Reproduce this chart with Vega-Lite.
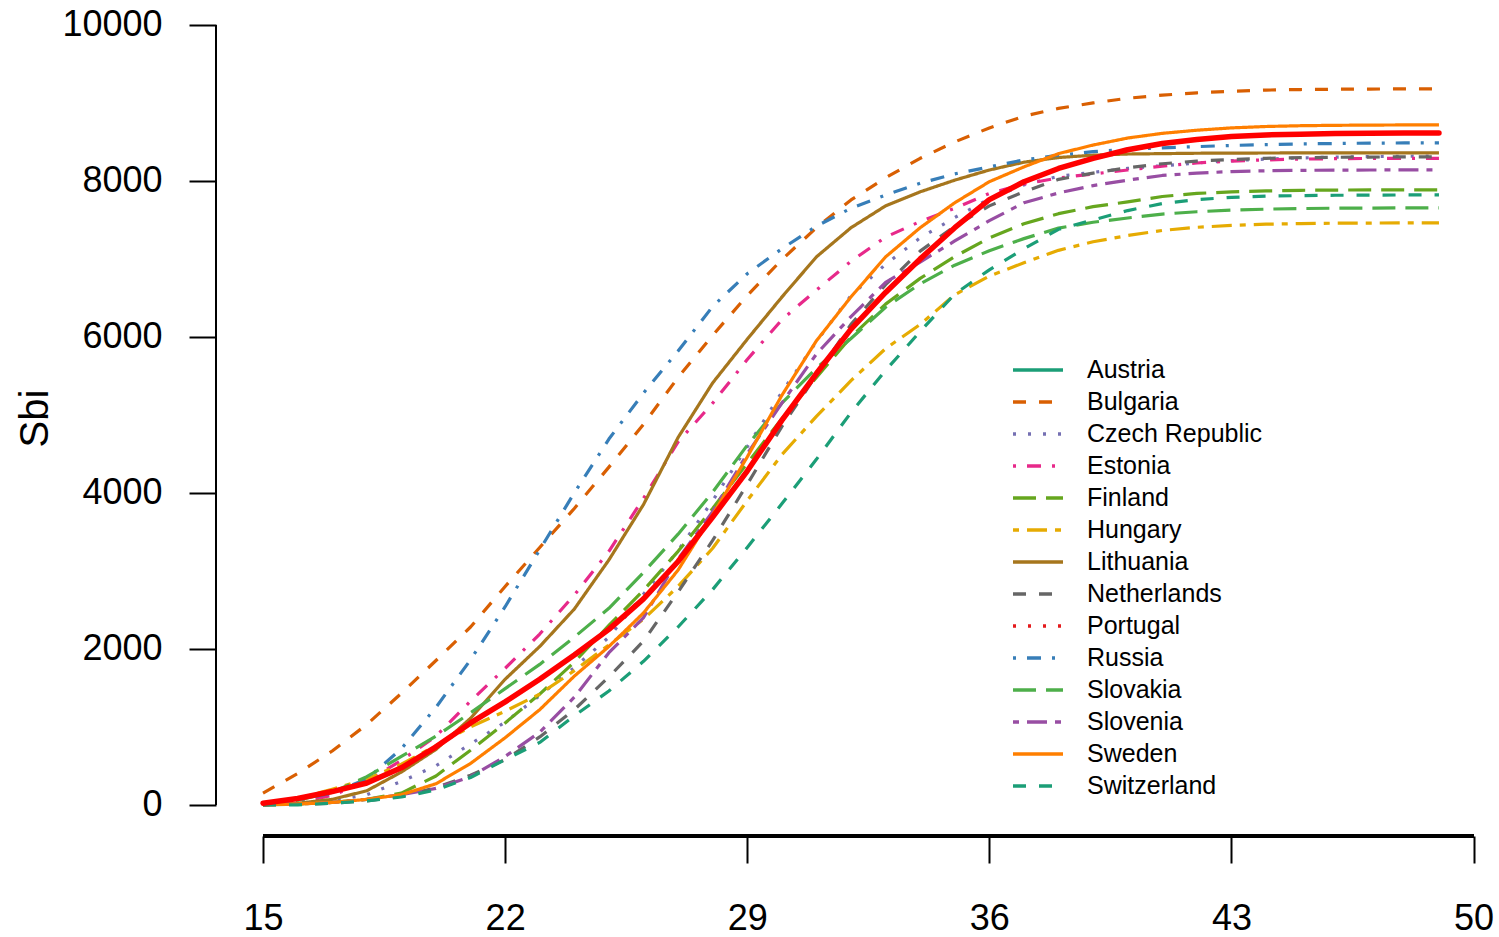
{
"$schema": "https://vega.github.io/schema/vega-lite/v6.json",
"width": 1270, "height": 836,
"autosize": {"type": "none"},
"padding": {"left": 216, "top": 0, "right": 13, "bottom": 101},
"background": "white",
"config": {"view": {"stroke": null}, "font": "Liberation Sans", "axis": {"grid": false, "domain": false}},
"datasets": {
"lines": [
{"country":"Bulgaria","age":15,"value":150},{"country":"Bulgaria","age":16,"value":400},{"country":"Bulgaria","age":17,"value":690},{"country":"Bulgaria","age":18,"value":1030},{"country":"Bulgaria","age":19,"value":1430},{"country":"Bulgaria","age":20,"value":1850},{"country":"Bulgaria","age":21,"value":2280},{"country":"Bulgaria","age":22,"value":2800},{"country":"Bulgaria","age":23,"value":3300},{"country":"Bulgaria","age":24,"value":3800},{"country":"Bulgaria","age":25,"value":4330},{"country":"Bulgaria","age":26,"value":4880},{"country":"Bulgaria","age":27,"value":5480},{"country":"Bulgaria","age":28,"value":6020},{"country":"Bulgaria","age":29,"value":6530},{"country":"Bulgaria","age":30,"value":6990},{"country":"Bulgaria","age":31,"value":7400},{"country":"Bulgaria","age":32,"value":7756},{"country":"Bulgaria","age":33,"value":8040},{"country":"Bulgaria","age":34,"value":8290},{"country":"Bulgaria","age":35,"value":8500},{"country":"Bulgaria","age":36,"value":8680},{"country":"Bulgaria","age":37,"value":8830},{"country":"Bulgaria","age":38,"value":8930},{"country":"Bulgaria","age":39,"value":9000},{"country":"Bulgaria","age":40,"value":9060},{"country":"Bulgaria","age":41,"value":9100},{"country":"Bulgaria","age":42,"value":9130},{"country":"Bulgaria","age":43,"value":9150},{"country":"Bulgaria","age":44,"value":9165},{"country":"Bulgaria","age":45,"value":9172},{"country":"Bulgaria","age":46,"value":9176},{"country":"Bulgaria","age":47,"value":9178},{"country":"Bulgaria","age":48,"value":9180},{"country":"Bulgaria","age":49,"value":9180},
{"country":"Czech Republic","age":15,"value":0},{"country":"Czech Republic","age":16,"value":10},{"country":"Czech Republic","age":17,"value":50},{"country":"Czech Republic","age":18,"value":130},{"country":"Czech Republic","age":19,"value":300},{"country":"Czech Republic","age":20,"value":500},{"country":"Czech Republic","age":21,"value":780},{"country":"Czech Republic","age":22,"value":1060},{"country":"Czech Republic","age":23,"value":1400},{"country":"Czech Republic","age":24,"value":1760},{"country":"Czech Republic","age":25,"value":2150},{"country":"Czech Republic","age":26,"value":2700},{"country":"Czech Republic","age":27,"value":3260},{"country":"Czech Republic","age":28,"value":3900},{"country":"Czech Republic","age":29,"value":4590},{"country":"Czech Republic","age":30,"value":5290},{"country":"Czech Republic","age":31,"value":5940},{"country":"Czech Republic","age":32,"value":6530},{"country":"Czech Republic","age":33,"value":6930},{"country":"Czech Republic","age":34,"value":7270},{"country":"Czech Republic","age":35,"value":7530},{"country":"Czech Republic","age":36,"value":7770},{"country":"Czech Republic","age":37,"value":7950},{"country":"Czech Republic","age":38,"value":8060},{"country":"Czech Republic","age":39,"value":8110},{"country":"Czech Republic","age":40,"value":8160},{"country":"Czech Republic","age":41,"value":8195},{"country":"Czech Republic","age":42,"value":8230},{"country":"Czech Republic","age":43,"value":8260},{"country":"Czech Republic","age":44,"value":8280},{"country":"Czech Republic","age":45,"value":8295},{"country":"Czech Republic","age":46,"value":8305},{"country":"Czech Republic","age":47,"value":8312},{"country":"Czech Republic","age":48,"value":8316},{"country":"Czech Republic","age":49,"value":8320},
{"country":"Estonia","age":15,"value":0},{"country":"Estonia","age":16,"value":30},{"country":"Estonia","age":17,"value":120},{"country":"Estonia","age":18,"value":300},{"country":"Estonia","age":19,"value":570},{"country":"Estonia","age":20,"value":880},{"country":"Estonia","age":21,"value":1330},{"country":"Estonia","age":22,"value":1750},{"country":"Estonia","age":23,"value":2190},{"country":"Estonia","age":24,"value":2690},{"country":"Estonia","age":25,"value":3250},{"country":"Estonia","age":26,"value":3930},{"country":"Estonia","age":27,"value":4654},{"country":"Estonia","age":28,"value":5150},{"country":"Estonia","age":29,"value":5710},{"country":"Estonia","age":30,"value":6220},{"country":"Estonia","age":31,"value":6600},{"country":"Estonia","age":32,"value":6970},{"country":"Estonia","age":33,"value":7280},{"country":"Estonia","age":34,"value":7480},{"country":"Estonia","age":35,"value":7650},{"country":"Estonia","age":36,"value":7840},{"country":"Estonia","age":37,"value":7960},{"country":"Estonia","age":38,"value":8038},{"country":"Estonia","age":39,"value":8090},{"country":"Estonia","age":40,"value":8140},{"country":"Estonia","age":41,"value":8190},{"country":"Estonia","age":42,"value":8230},{"country":"Estonia","age":43,"value":8255},{"country":"Estonia","age":44,"value":8270},{"country":"Estonia","age":45,"value":8280},{"country":"Estonia","age":46,"value":8285},{"country":"Estonia","age":47,"value":8288},{"country":"Estonia","age":48,"value":8290},{"country":"Estonia","age":49,"value":8290},
{"country":"Finland","age":15,"value":0},{"country":"Finland","age":16,"value":10},{"country":"Finland","age":17,"value":30},{"country":"Finland","age":18,"value":70},{"country":"Finland","age":19,"value":150},{"country":"Finland","age":20,"value":370},{"country":"Finland","age":21,"value":700},{"country":"Finland","age":22,"value":1050},{"country":"Finland","age":23,"value":1420},{"country":"Finland","age":24,"value":1830},{"country":"Finland","age":25,"value":2300},{"country":"Finland","age":26,"value":2750},{"country":"Finland","age":27,"value":3250},{"country":"Finland","age":28,"value":3800},{"country":"Finland","age":29,"value":4380},{"country":"Finland","age":30,"value":4950},{"country":"Finland","age":31,"value":5480},{"country":"Finland","age":32,"value":6000},{"country":"Finland","age":33,"value":6420},{"country":"Finland","age":34,"value":6750},{"country":"Finland","age":35,"value":7030},{"country":"Finland","age":36,"value":7270},{"country":"Finland","age":37,"value":7450},{"country":"Finland","age":38,"value":7580},{"country":"Finland","age":39,"value":7670},{"country":"Finland","age":40,"value":7731},{"country":"Finland","age":41,"value":7800},{"country":"Finland","age":42,"value":7840},{"country":"Finland","age":43,"value":7860},{"country":"Finland","age":44,"value":7872},{"country":"Finland","age":45,"value":7880},{"country":"Finland","age":46,"value":7883},{"country":"Finland","age":47,"value":7885},{"country":"Finland","age":48,"value":7885},{"country":"Finland","age":49,"value":7885},
{"country":"Hungary","age":15,"value":10},{"country":"Hungary","age":16,"value":80},{"country":"Hungary","age":17,"value":200},{"country":"Hungary","age":18,"value":330},{"country":"Hungary","age":19,"value":520},{"country":"Hungary","age":20,"value":760},{"country":"Hungary","age":21,"value":1000},{"country":"Hungary","age":22,"value":1200},{"country":"Hungary","age":23,"value":1420},{"country":"Hungary","age":24,"value":1720},{"country":"Hungary","age":25,"value":2050},{"country":"Hungary","age":26,"value":2380},{"country":"Hungary","age":27,"value":2800},{"country":"Hungary","age":28,"value":3290},{"country":"Hungary","age":29,"value":3900},{"country":"Hungary","age":30,"value":4490},{"country":"Hungary","age":31,"value":4980},{"country":"Hungary","age":32,"value":5440},{"country":"Hungary","age":33,"value":5850},{"country":"Hungary","age":34,"value":6160},{"country":"Hungary","age":35,"value":6540},{"country":"Hungary","age":36,"value":6780},{"country":"Hungary","age":37,"value":6950},{"country":"Hungary","age":38,"value":7110},{"country":"Hungary","age":39,"value":7220},{"country":"Hungary","age":40,"value":7300},{"country":"Hungary","age":41,"value":7365},{"country":"Hungary","age":42,"value":7405},{"country":"Hungary","age":43,"value":7430},{"country":"Hungary","age":44,"value":7445},{"country":"Hungary","age":45,"value":7453},{"country":"Hungary","age":46,"value":7458},{"country":"Hungary","age":47,"value":7460},{"country":"Hungary","age":48,"value":7462},{"country":"Hungary","age":49,"value":7462},
{"country":"Lithuania","age":15,"value":0},{"country":"Lithuania","age":16,"value":20},{"country":"Lithuania","age":17,"value":70},{"country":"Lithuania","age":18,"value":180},{"country":"Lithuania","age":19,"value":420},{"country":"Lithuania","age":20,"value":710},{"country":"Lithuania","age":21,"value":1110},{"country":"Lithuania","age":22,"value":1610},{"country":"Lithuania","age":23,"value":2030},{"country":"Lithuania","age":24,"value":2510},{"country":"Lithuania","age":25,"value":3140},{"country":"Lithuania","age":26,"value":3850},{"country":"Lithuania","age":27,"value":4710},{"country":"Lithuania","age":28,"value":5410},{"country":"Lithuania","age":29,"value":5970},{"country":"Lithuania","age":30,"value":6510},{"country":"Lithuania","age":31,"value":7026},{"country":"Lithuania","age":32,"value":7400},{"country":"Lithuania","age":33,"value":7680},{"country":"Lithuania","age":34,"value":7860},{"country":"Lithuania","age":35,"value":8010},{"country":"Lithuania","age":36,"value":8140},{"country":"Lithuania","age":37,"value":8240},{"country":"Lithuania","age":38,"value":8300},{"country":"Lithuania","age":39,"value":8330},{"country":"Lithuania","age":40,"value":8345},{"country":"Lithuania","age":41,"value":8350},{"country":"Lithuania","age":42,"value":8355},{"country":"Lithuania","age":43,"value":8357},{"country":"Lithuania","age":44,"value":8358},{"country":"Lithuania","age":45,"value":8359},{"country":"Lithuania","age":46,"value":8359},{"country":"Lithuania","age":47,"value":8359},{"country":"Lithuania","age":48,"value":8359},{"country":"Lithuania","age":49,"value":8359},
{"country":"Netherlands","age":15,"value":0},{"country":"Netherlands","age":16,"value":5},{"country":"Netherlands","age":17,"value":20},{"country":"Netherlands","age":18,"value":50},{"country":"Netherlands","age":19,"value":110},{"country":"Netherlands","age":20,"value":220},{"country":"Netherlands","age":21,"value":380},{"country":"Netherlands","age":22,"value":580},{"country":"Netherlands","age":23,"value":870},{"country":"Netherlands","age":24,"value":1220},{"country":"Netherlands","age":25,"value":1640},{"country":"Netherlands","age":26,"value":2100},{"country":"Netherlands","age":27,"value":2730},{"country":"Netherlands","age":28,"value":3390},{"country":"Netherlands","age":29,"value":4110},{"country":"Netherlands","age":30,"value":4850},{"country":"Netherlands","age":31,"value":5510},{"country":"Netherlands","age":32,"value":6160},{"country":"Netherlands","age":33,"value":6670},{"country":"Netherlands","age":34,"value":7100},{"country":"Netherlands","age":35,"value":7420},{"country":"Netherlands","age":36,"value":7680},{"country":"Netherlands","age":37,"value":7860},{"country":"Netherlands","age":38,"value":8020},{"country":"Netherlands","age":39,"value":8100},{"country":"Netherlands","age":40,"value":8170},{"country":"Netherlands","age":41,"value":8220},{"country":"Netherlands","age":42,"value":8255},{"country":"Netherlands","age":43,"value":8275},{"country":"Netherlands","age":44,"value":8290},{"country":"Netherlands","age":45,"value":8298},{"country":"Netherlands","age":46,"value":8303},{"country":"Netherlands","age":47,"value":8306},{"country":"Netherlands","age":48,"value":8308},{"country":"Netherlands","age":49,"value":8308},
{"country":"Portugal","age":15,"value":20},{"country":"Portugal","age":16,"value":80},{"country":"Portugal","age":17,"value":170},{"country":"Portugal","age":18,"value":280},{"country":"Portugal","age":19,"value":474},{"country":"Portugal","age":20,"value":744},{"country":"Portugal","age":21,"value":1050},{"country":"Portugal","age":22,"value":1320},{"country":"Portugal","age":23,"value":1610},{"country":"Portugal","age":24,"value":1920},{"country":"Portugal","age":25,"value":2250},{"country":"Portugal","age":26,"value":2640},{"country":"Portugal","age":27,"value":3120},{"country":"Portugal","age":28,"value":3690},{"country":"Portugal","age":29,"value":4280},{"country":"Portugal","age":30,"value":4930},{"country":"Portugal","age":31,"value":5530},{"country":"Portugal","age":32,"value":6100},{"country":"Portugal","age":33,"value":6570},{"country":"Portugal","age":34,"value":7000},{"country":"Portugal","age":35,"value":7400},{"country":"Portugal","age":36,"value":7760},{"country":"Portugal","age":37,"value":7990},{"country":"Portugal","age":38,"value":8160},{"country":"Portugal","age":39,"value":8290},{"country":"Portugal","age":40,"value":8400},{"country":"Portugal","age":41,"value":8480},{"country":"Portugal","age":42,"value":8530},{"country":"Portugal","age":43,"value":8570},{"country":"Portugal","age":44,"value":8590},{"country":"Portugal","age":45,"value":8600},{"country":"Portugal","age":46,"value":8608},{"country":"Portugal","age":47,"value":8612},{"country":"Portugal","age":48,"value":8615},{"country":"Portugal","age":49,"value":8615},
{"country":"Russia","age":15,"value":20},{"country":"Russia","age":16,"value":60},{"country":"Russia","age":17,"value":150},{"country":"Russia","age":18,"value":330},{"country":"Russia","age":19,"value":720},{"country":"Russia","age":20,"value":1250},{"country":"Russia","age":21,"value":1860},{"country":"Russia","age":22,"value":2540},{"country":"Russia","age":23,"value":3270},{"country":"Russia","age":24,"value":4000},{"country":"Russia","age":25,"value":4690},{"country":"Russia","age":26,"value":5280},{"country":"Russia","age":27,"value":5820},{"country":"Russia","age":28,"value":6390},{"country":"Russia","age":29,"value":6810},{"country":"Russia","age":30,"value":7130},{"country":"Russia","age":31,"value":7420},{"country":"Russia","age":32,"value":7650},{"country":"Russia","age":33,"value":7820},{"country":"Russia","age":34,"value":7970},{"country":"Russia","age":35,"value":8090},{"country":"Russia","age":36,"value":8180},{"country":"Russia","age":37,"value":8270},{"country":"Russia","age":38,"value":8330},{"country":"Russia","age":39,"value":8375},{"country":"Russia","age":40,"value":8405},{"country":"Russia","age":41,"value":8425},{"country":"Russia","age":42,"value":8440},{"country":"Russia","age":43,"value":8455},{"country":"Russia","age":44,"value":8465},{"country":"Russia","age":45,"value":8475},{"country":"Russia","age":46,"value":8480},{"country":"Russia","age":47,"value":8485},{"country":"Russia","age":48,"value":8487},{"country":"Russia","age":49,"value":8487},
{"country":"Slovakia","age":15,"value":0},{"country":"Slovakia","age":16,"value":60},{"country":"Slovakia","age":17,"value":160},{"country":"Slovakia","age":18,"value":360},{"country":"Slovakia","age":19,"value":620},{"country":"Slovakia","age":20,"value":880},{"country":"Slovakia","age":21,"value":1180},{"country":"Slovakia","age":22,"value":1490},{"country":"Slovakia","age":23,"value":1800},{"country":"Slovakia","age":24,"value":2150},{"country":"Slovakia","age":25,"value":2520},{"country":"Slovakia","age":26,"value":2980},{"country":"Slovakia","age":27,"value":3470},{"country":"Slovakia","age":28,"value":4010},{"country":"Slovakia","age":29,"value":4610},{"country":"Slovakia","age":30,"value":5150},{"country":"Slovakia","age":31,"value":5600},{"country":"Slovakia","age":32,"value":5980},{"country":"Slovakia","age":33,"value":6380},{"country":"Slovakia","age":34,"value":6680},{"country":"Slovakia","age":35,"value":6920},{"country":"Slovakia","age":36,"value":7105},{"country":"Slovakia","age":37,"value":7260},{"country":"Slovakia","age":38,"value":7395},{"country":"Slovakia","age":39,"value":7470},{"country":"Slovakia","age":40,"value":7525},{"country":"Slovakia","age":41,"value":7575},{"country":"Slovakia","age":42,"value":7605},{"country":"Slovakia","age":43,"value":7625},{"country":"Slovakia","age":44,"value":7638},{"country":"Slovakia","age":45,"value":7646},{"country":"Slovakia","age":46,"value":7650},{"country":"Slovakia","age":47,"value":7652},{"country":"Slovakia","age":48,"value":7654},{"country":"Slovakia","age":49,"value":7654},
{"country":"Slovenia","age":15,"value":0},{"country":"Slovenia","age":16,"value":10},{"country":"Slovenia","age":17,"value":30},{"country":"Slovenia","age":18,"value":70},{"country":"Slovenia","age":19,"value":130},{"country":"Slovenia","age":20,"value":210},{"country":"Slovenia","age":21,"value":360},{"country":"Slovenia","age":22,"value":620},{"country":"Slovenia","age":23,"value":930},{"country":"Slovenia","age":24,"value":1380},{"country":"Slovenia","age":25,"value":1950},{"country":"Slovenia","age":26,"value":2400},{"country":"Slovenia","age":27,"value":3150},{"country":"Slovenia","age":28,"value":3760},{"country":"Slovenia","age":29,"value":4500},{"country":"Slovenia","age":30,"value":5150},{"country":"Slovenia","age":31,"value":5780},{"country":"Slovenia","age":32,"value":6260},{"country":"Slovenia","age":33,"value":6700},{"country":"Slovenia","age":34,"value":6960},{"country":"Slovenia","age":35,"value":7230},{"country":"Slovenia","age":36,"value":7490},{"country":"Slovenia","age":37,"value":7720},{"country":"Slovenia","age":38,"value":7846},{"country":"Slovenia","age":39,"value":7940},{"country":"Slovenia","age":40,"value":8010},{"country":"Slovenia","age":41,"value":8070},{"country":"Slovenia","age":42,"value":8100},{"country":"Slovenia","age":43,"value":8120},{"country":"Slovenia","age":44,"value":8130},{"country":"Slovenia","age":45,"value":8136},{"country":"Slovenia","age":46,"value":8139},{"country":"Slovenia","age":47,"value":8140},{"country":"Slovenia","age":48,"value":8141},{"country":"Slovenia","age":49,"value":8141},
{"country":"Sweden","age":15,"value":0},{"country":"Sweden","age":16,"value":10},{"country":"Sweden","age":17,"value":30},{"country":"Sweden","age":18,"value":70},{"country":"Sweden","age":19,"value":130},{"country":"Sweden","age":20,"value":270},{"country":"Sweden","age":21,"value":530},{"country":"Sweden","age":22,"value":860},{"country":"Sweden","age":23,"value":1220},{"country":"Sweden","age":24,"value":1650},{"country":"Sweden","age":25,"value":2030},{"country":"Sweden","age":26,"value":2460},{"country":"Sweden","age":27,"value":3010},{"country":"Sweden","age":28,"value":3720},{"country":"Sweden","age":29,"value":4460},{"country":"Sweden","age":30,"value":5250},{"country":"Sweden","age":31,"value":5950},{"country":"Sweden","age":32,"value":6513},{"country":"Sweden","age":33,"value":7026},{"country":"Sweden","age":34,"value":7400},{"country":"Sweden","age":35,"value":7720},{"country":"Sweden","age":36,"value":7990},{"country":"Sweden","age":37,"value":8180},{"country":"Sweden","age":38,"value":8350},{"country":"Sweden","age":39,"value":8460},{"country":"Sweden","age":40,"value":8550},{"country":"Sweden","age":41,"value":8610},{"country":"Sweden","age":42,"value":8650},{"country":"Sweden","age":43,"value":8680},{"country":"Sweden","age":44,"value":8698},{"country":"Sweden","age":45,"value":8708},{"country":"Sweden","age":46,"value":8713},{"country":"Sweden","age":47,"value":8716},{"country":"Sweden","age":48,"value":8718},{"country":"Sweden","age":49,"value":8718},
{"country":"Switzerland","age":15,"value":0},{"country":"Switzerland","age":16,"value":0},{"country":"Switzerland","age":17,"value":20},{"country":"Switzerland","age":18,"value":50},{"country":"Switzerland","age":19,"value":100},{"country":"Switzerland","age":20,"value":190},{"country":"Switzerland","age":21,"value":350},{"country":"Switzerland","age":22,"value":580},{"country":"Switzerland","age":23,"value":800},{"country":"Switzerland","age":24,"value":1140},{"country":"Switzerland","age":25,"value":1460},{"country":"Switzerland","age":26,"value":1840},{"country":"Switzerland","age":27,"value":2280},{"country":"Switzerland","age":28,"value":2760},{"country":"Switzerland","age":29,"value":3300},{"country":"Switzerland","age":30,"value":3860},{"country":"Switzerland","age":31,"value":4430},{"country":"Switzerland","age":32,"value":5030},{"country":"Switzerland","age":33,"value":5570},{"country":"Switzerland","age":34,"value":6070},{"country":"Switzerland","age":35,"value":6550},{"country":"Switzerland","age":36,"value":6860},{"country":"Switzerland","age":37,"value":7130},{"country":"Switzerland","age":38,"value":7380},{"country":"Switzerland","age":39,"value":7500},{"country":"Switzerland","age":40,"value":7620},{"country":"Switzerland","age":41,"value":7710},{"country":"Switzerland","age":42,"value":7760},{"country":"Switzerland","age":43,"value":7790},{"country":"Switzerland","age":44,"value":7805},{"country":"Switzerland","age":45,"value":7812},{"country":"Switzerland","age":46,"value":7816},{"country":"Switzerland","age":47,"value":7818},{"country":"Switzerland","age":48,"value":7820},{"country":"Switzerland","age":49,"value":7820}
]
},
"data": {"name": "lines"},
"layer": [
{
"mark": {"type": "line", "strokeWidth": 3.2, "strokeJoin": "round"},
"encoding": {
"x": {"field": "age", "type": "quantitative", "scale": {"domain": [13.64, 50.36], "nice": false, "zero": false},
"axis": {"values": [15, 22, 29, 36, 43, 50], "title": null, "tickSize": 27, "tickWidth": 2, "tickColor": "black", "labelFontSize": 36, "labelColor": "black", "labelPadding": 38, "labelFlush": false, "labelOverlap": false}},
"y": {"field": "value", "type": "quantitative", "scale": {"domain": [-400, 10320], "nice": false, "zero": false},
"axis": {"values": [0, 2000, 4000, 6000, 8000, 10000], "format": "d", "title": "Sbi", "titleFontSize": 40, "titleFontWeight": "normal", "titleColor": "black", "titlePadding": 6, "tickSize": 27, "tickWidth": 2, "tickColor": "black", "labelFontSize": 36, "labelColor": "black", "labelPadding": 27}},
"color": {"field": "country", "type": "nominal",
"scale": {"domain": ["Austria", "Bulgaria", "Czech Republic", "Estonia", "Finland", "Hungary", "Lithuania", "Netherlands", "Portugal", "Russia", "Slovakia", "Slovenia", "Sweden", "Switzerland"],
"range": ["#1B9E77", "#D95F02", "#7570B3", "#E7298A", "#66A61E", "#E6AB02", "#A6761D", "#666666", "#E41A1C", "#377EB8", "#4DAF4A", "#984EA3", "#FF7F00", "#1B9E77"]},
"legend": {"orient": "none", "legendX": 795, "legendY": 354, "title": null, "symbolType": "stroke", "symbolSize": 2500, "symbolStrokeWidth": 3.5, "labelFontSize": 25, "labelColor": "black", "labelOffset": 22, "clipHeight": 32, "rowPadding": 0, "labelLimit": 0, "padding": 0, "labelExpr": "datum.label === 'Bulgaria' ? '\u00a0Bulgaria' : datum.label"}},
"strokeDash": {"field": "country", "type": "nominal",
"scale": {"domain": ["Austria", "Bulgaria", "Czech Republic", "Estonia", "Finland", "Hungary", "Lithuania", "Netherlands", "Portugal", "Russia", "Slovakia", "Slovenia", "Sweden", "Switzerland"],
"range": [[1, 0], [13, 13], [3, 12], [3, 11, 14, 11], [23, 10], [6, 8, 20, 8], [1, 0], [13, 13], [3, 12], [3, 11, 14, 11], [23, 10], [6, 8, 20, 8], [1, 0], [13, 13]]},
"legend": {"orient": "none", "legendX": 795, "legendY": 354, "title": null, "symbolType": "stroke", "symbolSize": 2500, "symbolStrokeWidth": 3.5, "labelFontSize": 25, "labelColor": "black", "labelOffset": 22, "clipHeight": 32, "rowPadding": 0, "labelLimit": 0, "padding": 0, "labelExpr": "datum.label === 'Bulgaria' ? '\u00a0Bulgaria' : datum.label"}}
}
},
{
"transform": [{"filter": "datum.country === 'Portugal'"}],
"mark": {"type": "line", "color": "#FF0000", "strokeWidth": 5.5, "strokeJoin": "round", "strokeCap": "round"},
"encoding": {"x": {"field": "age", "type": "quantitative"}, "y": {"field": "value", "type": "quantitative"}}
},
{
"mark": {"type": "rule", "color": "black", "strokeWidth": 2},
"encoding": {"x": {"datum": 13.64, "type": "quantitative"}, "y": {"datum": 0, "type": "quantitative"}, "y2": {"datum": 10000}}
},
{
"mark": {"type": "rule", "color": "black", "strokeWidth": 2.5},
"encoding": {"x": {"datum": 15, "type": "quantitative"}, "x2": {"datum": 50}, "y": {"datum": -400, "type": "quantitative"}}
}
]
}
